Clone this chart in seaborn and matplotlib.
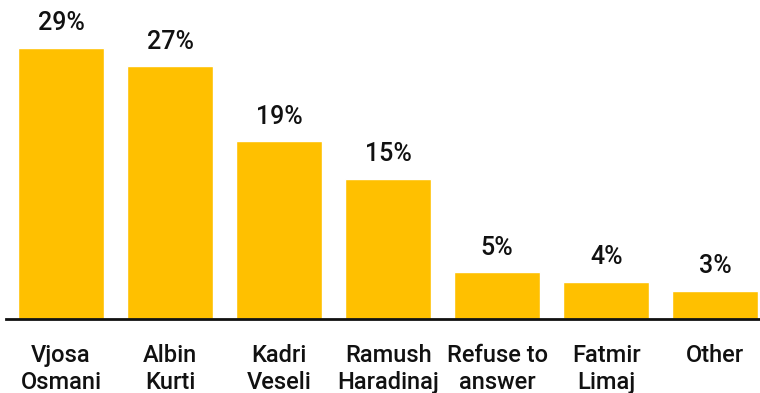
import matplotlib
matplotlib.use("Agg")
import matplotlib.pyplot as plt
import seaborn as sns
import pandas as pd

categories = ["Vjosa\nOsmani", "Albin\nKurti", "Kadri\nVeseli", "Ramush\nHaradinaj",
              "Refuse to\nanswer", "Fatmir\nLimaj", "Other"]
shares = [29, 27, 19, 15, 5, 4, 3]
value_labels = ["29%", "27%", "19%", "15%", "5%", "4%", "3%"]

sns.set_theme(style="white")
plt.rcParams["font.family"] = ["Roboto", "DejaVu Sans"]

df = pd.DataFrame({"candidate": categories, "share": shares})

fig = plt.figure(figsize=(7.6, 3.93), dpi=100)
ax = fig.add_axes([6 / 760, 74 / 393, 754 / 760, 319 / 393])

sns.barplot(data=df, x="candidate", y="share", color="#FFC000", width=0.79,
            saturation=1, ax=ax)

ax.set_xlim(-0.505, 6.41)
ax.set_ylim(0, 34.1)

ax.bar_label(ax.containers[0], labels=value_labels, padding=9,
             fontsize=18, fontweight="medium", color="#111111")

for side in ["top", "right", "left"]:
    ax.spines[side].set_visible(False)
ax.spines["bottom"].set_color("#111111")
ax.spines["bottom"].set_linewidth(2)

ax.set_yticks([])
ax.set_xlabel("")
ax.set_ylabel("")
ax.tick_params(axis="x", length=0, pad=18)
for lbl in ax.get_xticklabels():
    lbl.set_fontsize(17)
    lbl.set_fontweight("medium")
    lbl.set_color("#111111")
    lbl.set_linespacing(1.2)

fig.savefig("out.png", dpi=100)
